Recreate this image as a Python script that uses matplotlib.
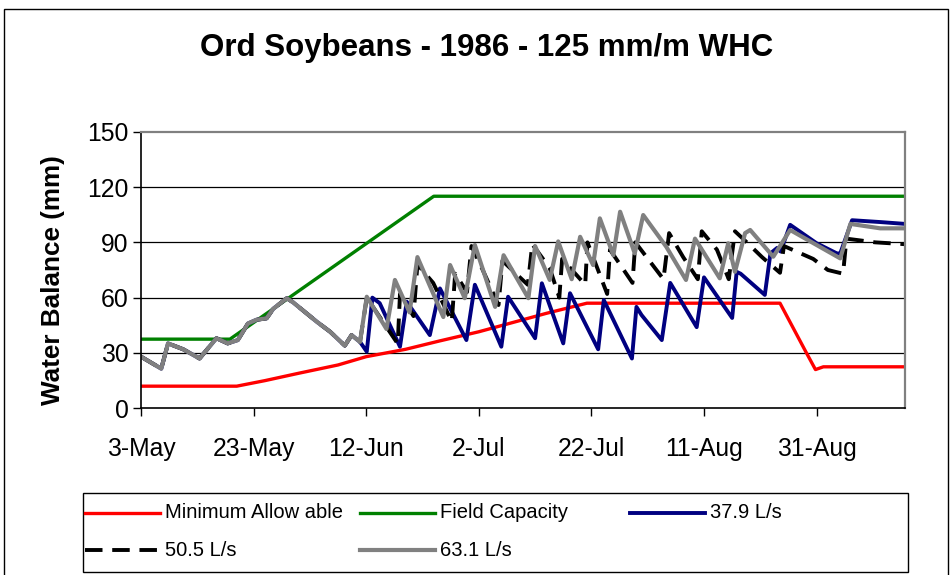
import datetime as dt

import matplotlib
matplotlib.use("Agg")
import matplotlib.pyplot as plt
import matplotlib.dates as mdates
from matplotlib.lines import Line2D
from matplotlib.patches import Rectangle

plt.rcParams["font.family"] = ["Liberation Sans", "DejaVu Sans"]

START = dt.datetime(1986, 5, 3)
END_DAY = 135.7

# days after 3-May
min_days = [0, 17, 22, 28, 35, 40, 47, 53, 60, 66, 72, 79.2, 113.5, 118.2, 119.8, 121.2, END_DAY]
min_vals = [12, 12, 15, 19, 23.5, 28, 32, 36.5, 41.5, 46.5, 51.5, 57, 57, 30, 21, 22.5, 22.5]

fc_days = [0, 15.8, 52, END_DAY]
fc_vals = [37.5, 37.5, 115, 115]

# all three irrigation runs follow the same curve until the first irrigation
early_days = [0, 3.6, 4.8, 7.5, 10.4, 13.4, 15.4, 17.2, 19, 20.5, 22.3, 23.5, 25.9, 27,
              31.2, 33.6, 36.2, 37.4, 38.9]
early_vals = [28, 21.5, 35.2, 32, 27, 38, 35.2, 37, 46, 48, 48.8, 54, 59.7, 57.5,
              47, 41.5, 34, 39.7, 36]

q379_days = [39.5, 40.1, 41.1, 42.4, 46, 47.2, 51.3, 53.1, 57.8, 59.3, 64, 65.2, 70, 71.2,
             75, 76.2, 81.2, 82.2, 87.2, 88, 88.9, 92.5, 94, 98.7, 100, 105, 105.8, 106.5,
             110.8, 111.8, 113, 113.6, 115.3, 120, 123.6, 124.2, 126.3, 131.3, END_DAY]
q379_vals = [33.4, 30.7, 60, 57, 33.4, 57.8, 39.7, 65, 37, 67, 33.4, 60.5, 38, 67.8,
             35.2, 62.4, 32, 58.7, 27, 55, 50.6, 37, 68, 44, 71, 49, 74, 73,
             61.5, 84, 87, 85, 99.5, 89.5, 84, 84, 102, 101, 100]

q505_days = [40.1, 45.6, 46.0, 48.4, 49.1, 51.9, 55.2, 55.8, 57.9, 58.7, 60.7, 63.5, 64.2,
             67.3, 68.7, 69.5, 72.6, 74.3, 74.8, 78.9, 79.3, 82.8, 83.3, 87.3, 87.8, 92.8,
             93.8, 96.3, 98.9, 99.6, 102.3, 104.4, 105.5, 107.6, 110.3, 113.5, 114.2, 119.4,
             122, 124.7, 125.3, 130.4, END_DAY]
q505_vals = [60, 35, 62, 50, 78, 68, 47, 73, 63, 88, 75, 56, 80,
             71, 67, 89, 76, 60, 81, 67, 90, 62, 86, 68, 90, 70,
             95, 82, 70, 96, 86, 70, 96, 90, 82, 73.5, 88, 81,
             75, 73, 92, 90, 89]

q631_days = [40.1, 43.6, 45.1, 47.7, 49.1, 53.7, 54.9, 57.5, 59.3, 62.9, 64.4, 68.8, 70,
             72.6, 74.1, 76.5, 78, 80.3, 81.5, 83.9, 85.1, 87.7, 89.2, 93.3, 96.8, 98.4,
             102.8, 104.3, 105.5, 107.3, 108.2, 112.3, 115.3, 124.2, 126, 131.3, END_DAY]
q631_vals = [60.5, 43, 69.6, 52, 82, 49.5, 77.7, 59.7, 88.6, 55, 83, 59.7, 88,
             69.6, 90.5, 70, 93, 77.7, 103, 83, 106.6, 84, 104.8, 87.6, 69.6, 92,
             70.5, 89.5, 74, 95, 96.7, 82.2, 96.7, 81.3, 100, 97.6, 97.6]

tick_days = [0, 20, 40, 60, 80, 100, 120]
y_ticks = [0, 30, 60, 90, 120, 150]


def to_num(days):
    base = mdates.date2num(START)
    return [base + d for d in days]


series = [
    ("Minimum Allow able", min_days, min_vals, "#FF0000", "-", 2.4),
    ("Field Capacity", fc_days, fc_vals, "#008000", "-", 2.4),
    ("37.9 L/s", early_days + q379_days, early_vals + q379_vals, "#000080", "-", 2.8),
    ("50.5 L/s", early_days + q505_days, early_vals + q505_vals, "#000000", "--", 2.8),
    ("63.1 L/s", early_days + q631_days, early_vals + q631_vals, "#808080", "-", 3.0),
]

W, H = 953, 575
fig = plt.figure(figsize=(W / 100, H / 100), dpi=100)
ax = fig.add_axes([141 / W, 1 - 408.3 / H, (905 - 141) / W, (408.3 - 131.7) / H])

for name, xs, ys, col, ls, lw in series:
    kw = dict(dashes=(4.5, 2.5)) if ls == "--" else {}
    ax.plot(to_num(xs), ys, color=col, lw=lw, ls=ls, solid_joinstyle="round", **kw)

ax.set_xlim(to_num([0, END_DAY]))
ax.set_ylim(0, 150)
ax.set_yticks(y_ticks)
ax.set_xticks(to_num(tick_days))
ax.xaxis.set_major_formatter(mdates.DateFormatter("%-d-%b"))
ax.tick_params(axis="both", direction="out", length=6, width=1, labelsize=17.8, color="black")
ax.tick_params(axis="x", pad=15)
ax.tick_params(axis="y", pad=3)
for v in y_ticks[1:-1]:
    ax.axhline(v, color="black", lw=0.9, zorder=0)
for s in ("left", "bottom"):
    ax.spines[s].set_color("black")
    ax.spines[s].set_linewidth(1.2)
for s in ("top", "right"):
    ax.spines[s].set_color("#808080")
    ax.spines[s].set_linewidth(1.6)

fig.text(0.5105, 0.9165, "Ord Soybeans - 1986 - 125 mm/m WHC", ha="center", va="center",
         fontsize=22.5, fontweight="bold")
fig.text(0.0555, 0.512, "Water Balance (mm)", rotation=90, ha="center", va="center",
         fontsize=18.8, fontweight="bold")

# legend box laid out like the spreadsheet one (3 columns, 2 rows)
fig.add_artist(Rectangle((83 / W, 1 - 572 / H), (908 - 83) / W, (572 - 493) / H,
                         transform=fig.transFigure, fill=False, ec="black", lw=1))
col_x = [85, 360, 630]
row_y = [513, 550]
for i, (name, xs, ys, col, ls, lw) in enumerate(series):
    cx = col_x[i % 3]
    ry = row_y[i // 3]
    kw = dict(dashes=(4.5, 2.5)) if ls == "--" else {}
    fig.add_artist(Line2D([cx / W, (cx + 75) / W], [1 - ry / H, 1 - ry / H],
                          transform=fig.transFigure, color=col, lw=lw, ls=ls, **kw))
    fig.text((cx + 80) / W, 1 - ry / H, name, ha="left", va="center", fontsize=14.5)

# outer chart frame
fig.add_artist(Rectangle((4 / W, -0.01), (948 - 4) / W, 1.01 - 9 / H,
                         transform=fig.transFigure, fill=False, ec="black", lw=1))

fig.savefig("out.png", dpi=100)
